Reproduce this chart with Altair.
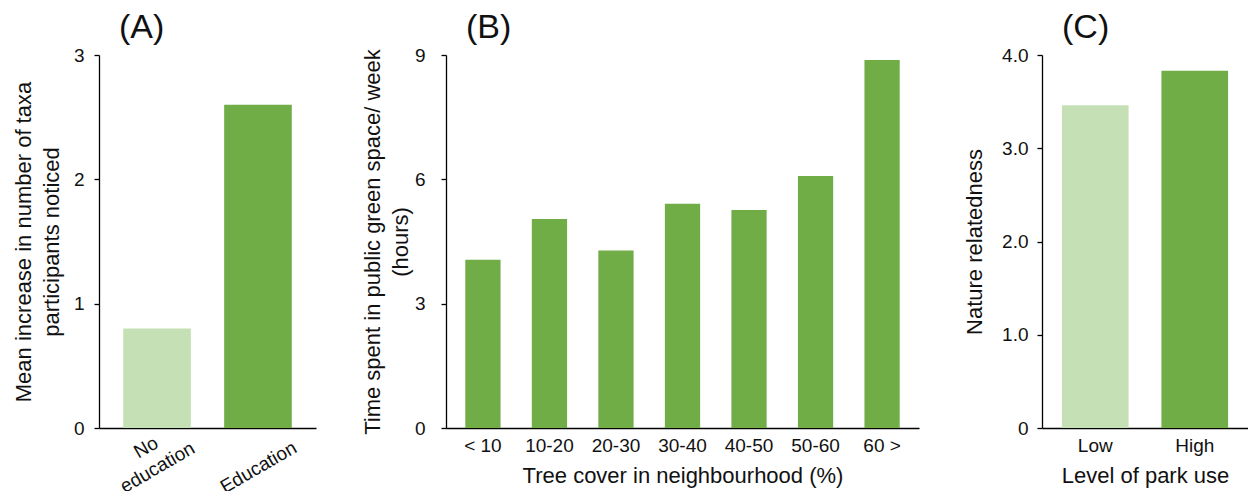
import altair as alt
import pandas as pd

# ---- data ----
a_cats = ["No education", "Education"]
a_vals = [0.80, 2.60]
a_cols = ["#c5e0b4", "#70ad47"]

b_cats = ["< 10", "10-20", "20-30", "30-40", "40-50", "50-60", "60 >"]
b_vals = [4.06, 5.04, 4.28, 5.41, 5.26, 6.08, 8.88]

c_cats = ["Low", "High"]
c_vals = [3.46, 3.83]
c_cols = ["#c5e0b4", "#70ad47"]

DARK = "#70ad47"
FONT = "Liberation Sans"
H = 373
TXT = "#111111"


def ptitle(t):
    return alt.TitleParams(t, anchor="start", frame="group", dx=20, fontSize=34,
                           font=FONT, fontWeight="normal", color=TXT, offset=1)


def yaxis(title, values, title_x, label_pad, label_expr=None):
    kw = dict(title=title, values=values, titleX=title_x, titleY=H / 2,
              titleAngle=270, titleAlign="center", titleBaseline="bottom",
              labelPadding=label_pad, tickSize=5, titleLineHeight=28)
    if label_expr:
        kw["labelExpr"] = label_expr
    return alt.Axis(**kw)


dfa = pd.DataFrame({"cat": a_cats, "val": a_vals, "col": a_cols})
chart_a = alt.Chart(dfa, title=ptitle("(A)")).mark_bar().encode(
    x=alt.X("cat:N", sort=a_cats,
            scale=alt.Scale(paddingInner=0.33, paddingOuter=0.24),
            axis=alt.Axis(title=None, labelAngle=330, labelAlign="center",
                          labelBaseline="middle", labelPadding=19, labelOffset=-11,
                          ticks=False, labelLineHeight=23,
                          labelExpr="datum.label == 'No education' ? ['No', 'education'] : ['', datum.label]")),
    y=alt.Y("val:Q", scale=alt.Scale(domain=[0, 3], nice=False),
            axis=yaxis(["Mean increase in number of taxa", "participants noticed"],
                       [0, 1, 2, 3], -64, 10)),
    color=alt.Color("col:N", scale=None),
).properties(width=217, height=H)

dfb = pd.DataFrame({"cat": b_cats, "val": b_vals})
chart_b = alt.Chart(dfb, title=ptitle("(B)")).mark_bar(color=DARK).encode(
    x=alt.X("cat:N", sort=b_cats,
            scale=alt.Scale(paddingInner=0.47, paddingOuter=0.29),
            axis=alt.Axis(title="Tree cover in neighbourhood (%)", labelAngle=0,
                          ticks=False, labelPadding=8, titlePadding=10)),
    y=alt.Y("val:Q", scale=alt.Scale(domain=[0, 9], nice=False),
            axis=yaxis(["Time spent in public green space/ week", "(hours)"],
                       [0, 3, 6, 9], -62, 16)),
).properties(width=473, height=H)

dfc = pd.DataFrame({"cat": c_cats, "val": c_vals, "col": c_cols})
chart_c = alt.Chart(dfc, title=ptitle("(C)")).mark_bar().encode(
    x=alt.X("cat:N", sort=c_cats,
            scale=alt.Scale(paddingInner=0.33, paddingOuter=0.2),
            axis=alt.Axis(title="Level of park use", labelAngle=0,
                          ticks=False, labelPadding=8, titlePadding=10)),
    y=alt.Y("val:Q", scale=alt.Scale(domain=[0, 4], nice=False),
            axis=yaxis("Nature relatedness", [0, 1, 2, 3, 4], -56, 9,
                       "datum.value == 0 ? '0' : format(datum.value, '.1f')")),
    color=alt.Color("col:N", scale=None),
).properties(width=206, height=H)

chart = alt.hconcat(chart_a, chart_b, chart_c, spacing=44).properties(
    padding={"left": 3, "top": 3, "right": 0, "bottom": 0}
).configure_view(stroke=None).configure_axis(
    domainColor="#000000", tickColor="#000000", labelColor=TXT, titleColor=TXT,
    labelFont=FONT, titleFont=FONT, labelFontSize=19, titleFontSize=22,
    titleFontWeight="normal", grid=False, domainWidth=1.3, tickWidth=1.3,
)

chart.save("out.html", embed_options={"renderer": "svg", "actions": False})
